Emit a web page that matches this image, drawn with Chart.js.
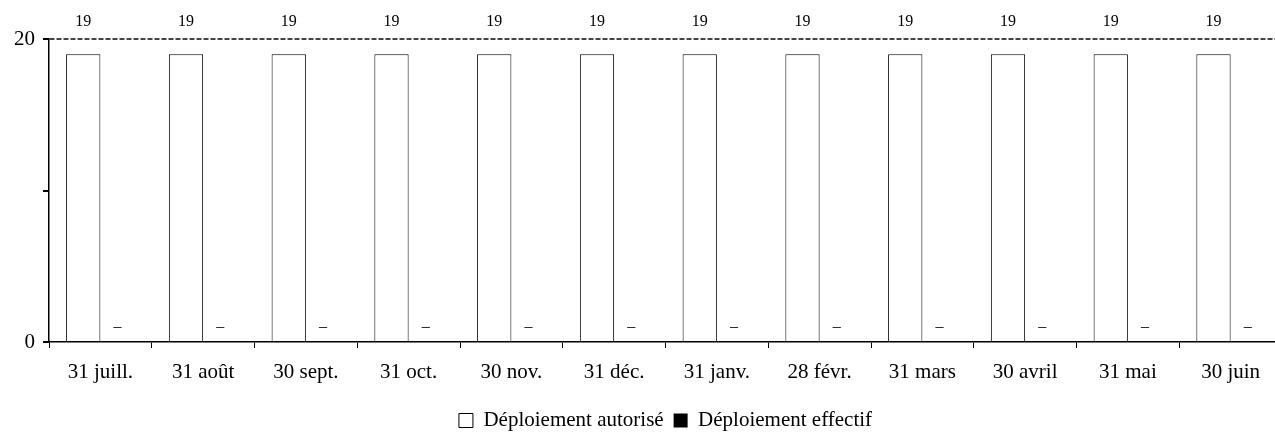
<!DOCTYPE html>
<html>
<head>
<meta charset="utf-8">
<script src="https://cdn.jsdelivr.net/npm/chart.js@4/dist/chart.umd.min.js"></script>
<style>
html, body { margin:0; padding:0; overflow:hidden; background:#fff; }
#wrap { width:1284px; height:433px; }
</style>
</head>
<body>
<div id="wrap"><canvas id="c" width="1284" height="433"></canvas></div>
<script>
const categories = ['31 juill.', '31 août', '30 sept.', '31 oct.', '30 nov.', '31 déc.', '31 janv.', '28 févr.', '31 mars', '30 avril', '31 mai', '30 juin'];
const autorise = [19, 19, 19, 19, 19, 19, 19, 19, 19, 19, 19, 19];
const effectif = [0, 0, 0, 0, 0, 0, 0, 0, 0, 0, 0, 0];
const yTickLabels = { 0: '0', 20: '20' };
const seriesNames = ['Déploiement autorisé', 'Déploiement effectif'];

const FONT = "'Liberation Serif', 'Times New Roman', serif";

const valueLabels = {
  id: 'valueLabels',
  afterDatasetsDraw(chart) {
    const ctx = chart.ctx;
    const area = chart.chartArea;
    ctx.save();
    ctx.fillStyle = '#000';
    ctx.textAlign = 'center';
    ctx.textBaseline = 'middle';
    ctx.font = '16px ' + FONT;
    chart.data.datasets.forEach((ds, di) => {
      const meta = chart.getDatasetMeta(di);
      meta.data.forEach((el, i) => {
        const v = ds.data[i];
        if (v === 0) {
          ctx.fillText('–', el.x, el.base - 15);
        } else {
          ctx.fillText(String(v), el.x, area.top - 17);
        }
      });
    });
    ctx.restore();
  }
};

new Chart(document.getElementById('c'), {
  type: 'bar',
  data: {
    labels: categories,
    datasets: [
      { label: seriesNames[0], data: autorise, backgroundColor: '#fff', borderColor: '#000', borderWidth: 1 },
      { label: seriesNames[1], data: effectif, backgroundColor: '#000', borderColor: '#000', borderWidth: 0 }
    ]
  },
  options: {
    responsive: false,
    animation: false,
    categoryPercentage: 0.667,
    barPercentage: 1,
    layout: { padding: { top: 39, left: 6, right: 2, bottom: 0 } },
    plugins: {
      tooltip: { enabled: false },
      legend: {
        position: 'bottom',
        fullSize: false,
        maxHeight: 33,
        labels: {
          color: '#000',
          font: { family: FONT, size: 21 },
          boxWidth: 14,
          boxHeight: 14,
          padding: 10
        }
      }
    },
    scales: {
      x: {
        afterFit: (scale) => { scale.height = 58; },
        grid: { display: true, offset: true, drawOnChartArea: false, drawTicks: true, tickLength: 6, tickColor: '#000', color: '#000' },
        border: { display: true, color: '#000', width: 1.5 },
        ticks: { color: '#000', font: { family: FONT, size: 21 }, padding: 12, maxRotation: 0, autoSkip: false }
      },
      y: {
        min: 0, max: 20,
        grid: {
          drawTicks: true, tickLength: 6, tickColor: '#000', lineWidth: 2,
          color: (c) => (c.tick && c.tick.value === 20) ? '#444' : 'rgba(0,0,0,0)'
        },
        border: { display: true, color: '#000', width: 1.5, dash: [5, 2] },
        ticks: {
          stepSize: 10, color: '#000', font: { family: FONT, size: 21 }, padding: 8,
          callback: (v) => (yTickLabels[v] !== undefined ? yTickLabels[v] : '')
        }
      }
    }
  },
  plugins: [valueLabels]
});
</script>
</body>
</html>
